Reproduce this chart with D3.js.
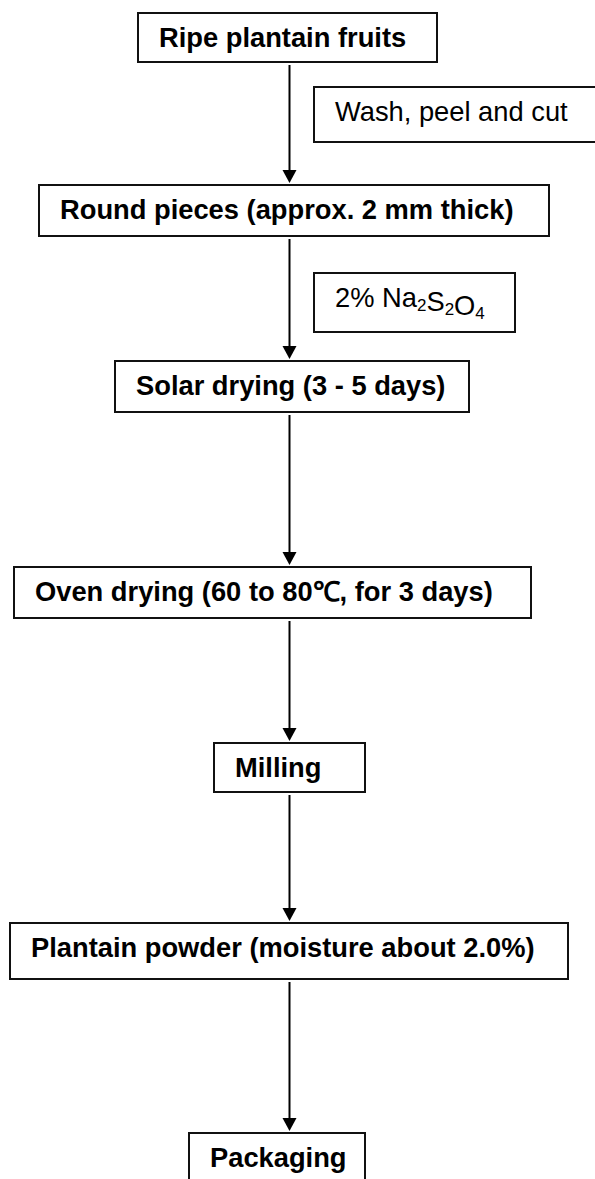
<!DOCTYPE html>
<html>
<head>
<meta charset="utf-8">
<script src="https://cdn.jsdelivr.net/npm/d3@7"></script>
<style>
  body { margin: 0; background: #fff; }
</style>
</head>
<body>
<div id="grafica"></div>
<script>
// datos: pasos del proceso y tratamientos intermedios
steps = [
  'Ripe plantain fruits',
  'Round pieces (approx. 2 mm thick)',
  'Solar drying (3 - 5 days)',
  'Oven drying (60 to 80\u2103, for 3 days)',
  'Milling',
  'Plantain powder (moisture about 2.0%)',
  'Packaging'
]
treatments = ['Wash, peel and cut', '2% Na\u2082S\u2082O\u2084']

// layout (posiciones de las cajas)
ancho_total = 595
alto_total = 1179
stepTop    = [13, 185, 361, 567, 743, 923, 1133]
stepBottom = [62, 236, 412, 618, 792, 979, 1200]
stepLeft   = [138, 39, 115, 14, 214, 10, 189]
stepRight  = [437, 549, 469, 531, 365, 568, 365]
sideTop    = [87, 273]
sideBottom = [142, 332]
sideLeft   = [314, 314]
sideRight  = [610, 515]
arrowX = 289.5

top_ = d3.scaleOrdinal().domain(steps).range(stepTop)
bottom_ = d3.scaleOrdinal().domain(steps).range(stepBottom)
left_ = d3.scaleOrdinal().domain(steps).range(stepLeft)
right_ = d3.scaleOrdinal().domain(steps).range(stepRight)

sTop = d3.scaleOrdinal().domain(treatments).range(sideTop)
sBottom = d3.scaleOrdinal().domain(treatments).range(sideBottom)
sLeft = d3.scaleOrdinal().domain(treatments).range(sideLeft)
sRight = d3.scaleOrdinal().domain(treatments).range(sideRight)

fuente = '"Liberation Sans", Arial, Helvetica, sans-serif'

svg = d3.select('#grafica')
  .append('svg')
  .attr('width', ancho_total)
  .attr('height', alto_total)

// flechas entre pasos
pares = d3.pairs(steps)
g_flechas = svg.append('g')
g_flechas.selectAll('line')
  .data(pares)
  .enter()
  .append('line')
  .attr('x1', arrowX)
  .attr('x2', arrowX)
  .attr('y1', (d) => bottom_(d[0]) + 3)
  .attr('y2', (d) => top_(d[1]) - 14)
  .attr('stroke', '#000')
  .attr('stroke-width', 2)

g_flechas.selectAll('path')
  .data(pares)
  .enter()
  .append('path')
  .attr('d', (d) => {
    t = top_(d[1]) - 2
    return `M${arrowX - 7},${t - 13}L${arrowX + 7},${t - 13}L${arrowX},${t}Z`
  })
  .attr('fill', '#000')

// cajas de los pasos
cajas = svg.selectAll('g.paso')
  .data(steps)
  .enter()
  .append('g')
  .classed('paso', true)

cajas.append('rect')
  .attr('x', (d) => left_(d))
  .attr('y', (d) => top_(d))
  .attr('width', (d) => right_(d) - left_(d))
  .attr('height', (d) => bottom_(d) - top_(d))
  .attr('fill', '#fff')
  .attr('stroke', '#111')
  .attr('stroke-width', 2)

cajas.append('text')
  .attr('x', (d) => left_(d) + 21)
  .attr('y', (d) => top_(d) + 34)
  .attr('font-family', fuente)
  .attr('font-weight', 'bold')
  .attr('font-size', '27.3px')
  .attr('fill', '#000')
  .text((d) => d)

// cajas laterales de tratamiento
subs = { '\u2082': '2', '\u2083': '3', '\u2084': '4' }
laterales = svg.selectAll('g.trat')
  .data(treatments)
  .enter()
  .append('g')
  .classed('trat', true)

laterales.append('rect')
  .attr('x', (d) => sLeft(d))
  .attr('y', (d) => sTop(d))
  .attr('width', (d) => sRight(d) - sLeft(d))
  .attr('height', (d) => sBottom(d) - sTop(d))
  .attr('fill', '#fff')
  .attr('stroke', '#111')
  .attr('stroke-width', 2)

laterales.each(function (d) {
  txt = d3.select(this).append('text')
    .attr('x', sLeft(d) + 21)
    .attr('y', sTop(d) + 34)
    .attr('font-family', fuente)
    .attr('font-size', '27.3px')
    .attr('fill', '#000')
  // separar en trozos normales y subindices
  trozos = []
  Array.from(d).forEach((c) => {
    esSub = c in subs
    ch = esSub ? subs[c] : c
    ult = trozos[trozos.length - 1]
    if (ult && ult.sub == esSub) ult.t += ch
    else trozos.push({ t: ch, sub: esSub })
  })
  trozos.forEach((p) => {
    txt.append('tspan')
      .attr('dy', p.sub ? 4 : null)
      .attr('font-size', p.sub ? '17px' : null)
      .text(p.t)
    if (p.sub) txt.append('tspan').attr('dy', -4).text('')
  })
})
</script>
</body>
</html>
